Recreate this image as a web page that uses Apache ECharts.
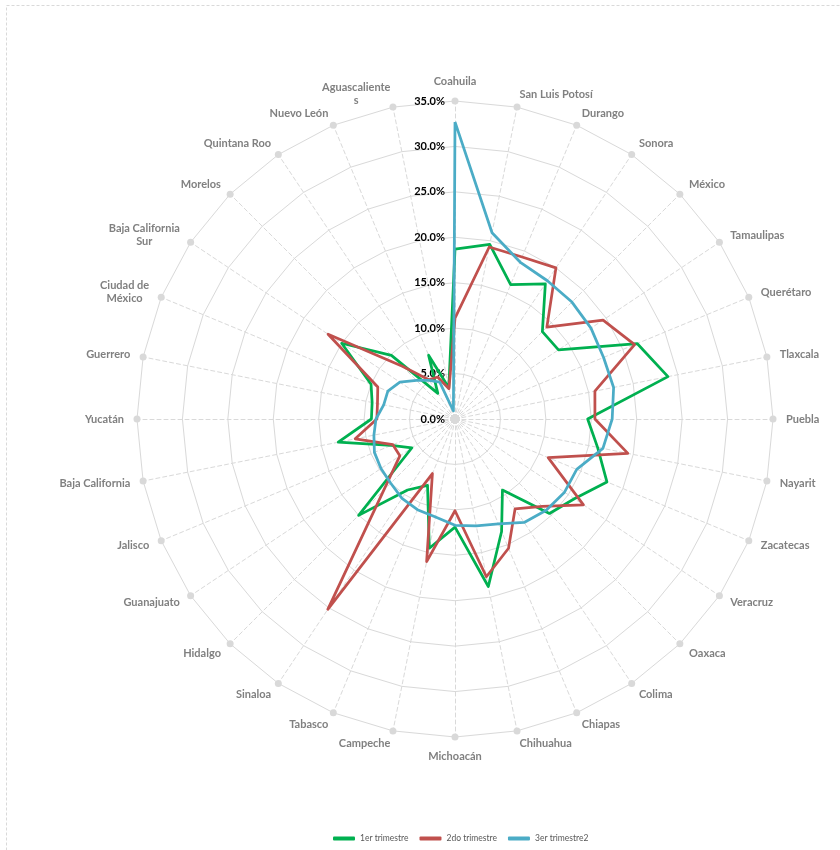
<!DOCTYPE html>
<html><head><meta charset="utf-8">
<script src="https://cdn.jsdelivr.net/npm/echarts@6/dist/echarts.min.js"></script>
<style>html,body{margin:0;padding:0;background:#fff}#c{width:840px;height:850px}</style>
</head><body><div id="c"></div>
<script>
// Categories in clockwise order starting at the top
const categories = ['Coahuila','San Luis Potosí','Durango','Sonora','México','Tamaulipas','Querétaro','Tlaxcala','Puebla','Nayarit','Zacatecas','Veracruz','Oaxaca','Colima','Chiapas','Chihuahua','Michoacán','Campeche','Tabasco','Sinaloa','Hidalgo','Guanajuato','Jalisco','Baja California','Yucatán','Guerrero','Ciudad de\nMéxico','Baja California\nSur','Morelos','Quintana Roo','Nuevo León','Aguascaliente\ns'];
const trimestre1 = [18.7,19.6,16.0,17.9,13.6,13.7,21.7,23.9,14.6,16.0,18.1,15.8,14.7,9.4,13.4,18.8,11.9,14.5,7.9,9.4,15.0,5.7,7.6,13.1,9.2,9.3,10.0,15.0,9.9,3.4,7.6,3.5];
const trimestre2 = [11.1,19.3,19.3,20.0,14.3,19.6,21.4,15.7,15.4,19.4,11.1,17.0,13.6,11.9,15.4,17.7,10.1,16.0,6.5,25.2,11.1,7.3,7.4,11.2,8.6,8.7,9.2,16.8,8.2,5.2,5.0,3.4];
const trimestre3 = [32.7,20.9,18.7,18.3,18.2,18.0,17.7,17.8,17.3,16.6,14.5,14.5,14.2,13.7,12.5,12.0,11.7,11.0,10.8,10.5,10.0,9.8,9.6,9.1,8.7,8.0,8.0,7.3,6.0,5.1,4.4,0.9];
const seriesNames = ['1er trimestre','2do trimestre','3er trimestre2'];
const seriesColors = ['#00b050','#c0504d','#4bacc6'];
const axisMin = 0, axisMax = 35, axisSplits = 7;

// ECharts radar runs counter-clockwise: keep first item at top, reverse the rest
const n = categories.length;
const order = [0].concat(Array.from({length: n - 1}, (_, k) => n - 1 - k));
const reorder = arr => order.map(i => arr[i]);

const FONT = 'Lato, "Liberation Sans", sans-serif';
const indicator = reorder(categories).map((name, idx) => {
  const o = {name: name, min: axisMin, max: axisMax};
  if (idx === 0) o.axisLabel = {show: true};
  return o;
});

const chart = echarts.init(document.getElementById('c'), null, {renderer: 'canvas'});
const dataSeries = [trimestre1, trimestre2, trimestre3].map((vals, i) => ({
  type: 'radar',
  name: seriesNames[i],
  symbol: 'none',
  silent: true,
  z: 3,
  lineStyle: {color: seriesColors[i], width: 2.75},
  itemStyle: {color: seriesColors[i]},
  data: [{value: reorder(vals), name: seriesNames[i]}]
}));
// decorative markers at outer vertices and centre
const outer = categories.map(() => axisMax);
const inner = categories.map(() => axisMin);
const markerSeries = [outer, inner].map((vals, i) => ({
  type: 'radar', name: 'm' + i, silent: true, z: 1,
  symbol: 'circle', symbolSize: i === 0 ? 7 : 9,
  lineStyle: {width: 0, opacity: 0},
  itemStyle: {color: '#d9d9d9'},
  data: [{value: vals}]
}));

chart.setOption({
  backgroundColor: '#ffffff',
  animation: false,
  graphic: [{
    type: 'rect', silent: true, z: -10,
    shape: {x: 6.5, y: 5.5, width: 860, height: 870},
    style: {fill: null, stroke: '#d9d9d9', lineWidth: 1, lineDash: [3, 2]}
  }],
  legend: {
    data: seriesNames,
    left: 328, top: 829,
    itemWidth: 22, itemHeight: 4, itemGap: 11,
    icon: 'roundRect',
    textStyle: {color: '#595959', fontSize: 8.5, fontFamily: FONT}
  },
  radar: {
    center: [455, 419],
    radius: 318,
    startAngle: 90,
    splitNumber: axisSplits,
    shape: 'polygon',
    indicator: indicator,
    nameGap: 13,
    axisName: {
      formatter: name => name.split('\n').map(l => '{n|' + l + '}').join('\n'),
      rich: {n: {color: '#808080', fontSize: 11, fontWeight: 'bold', fontFamily: FONT, align: 'center', lineHeight: 13}}
    },
    axisLine: {show: true, lineStyle: {color: '#d9d9d9', type: [4, 3], width: 1}},
    splitLine: {show: true, lineStyle: {color: '#d9d9d9', width: 1}},
    splitArea: {show: false},
    axisTick: {show: false},
    axisLabel: {
      show: false, margin: 10,
      color: '#000000', fontSize: 11, fontWeight: 'bold', fontFamily: FONT,
      formatter: v => Number(v).toFixed(1) + '%'
    }
  },
  series: markerSeries.concat(dataSeries)
});
</script></body></html>
